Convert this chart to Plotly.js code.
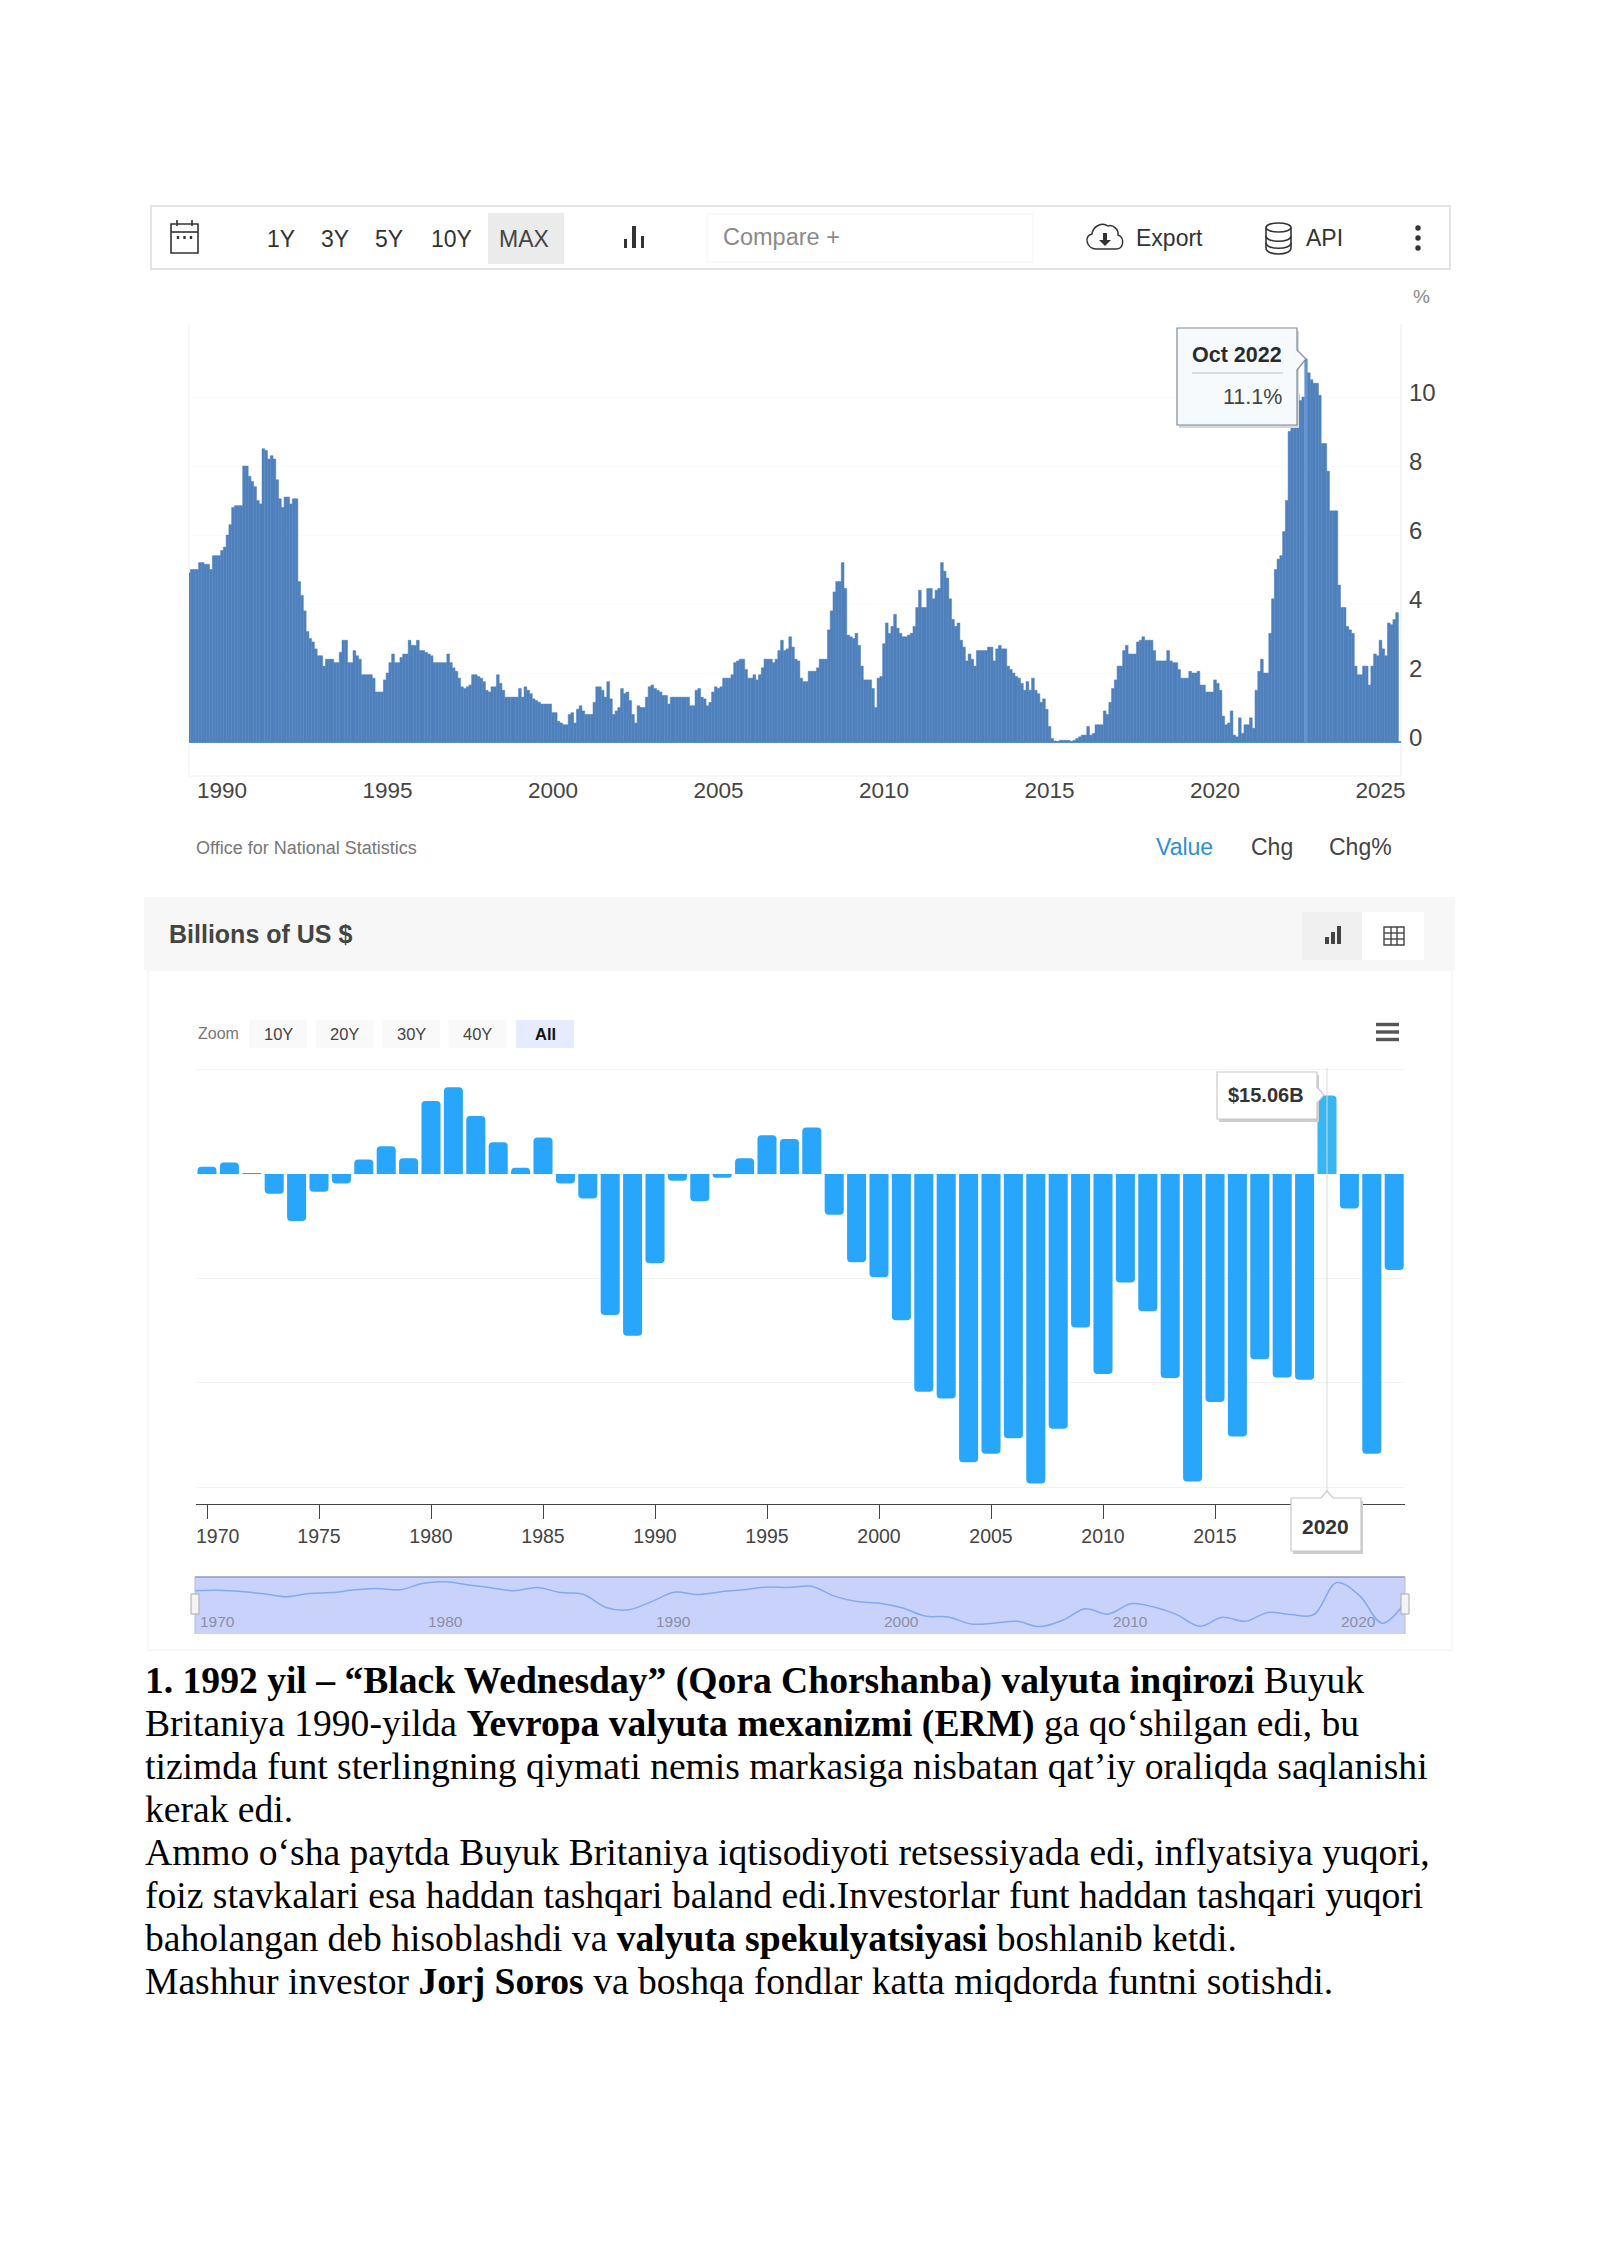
<!DOCTYPE html>
<html><head><meta charset="utf-8">
<script src="https://cdn.plot.ly/plotly-3.0.1.min.js"></script>
<style>html,body{margin:0;padding:0;background:#fff}#c{width:1600px;height:2262px}</style>
</head><body><div id="c"></div>
<script>
// ---------- DATA ----------
const inflationStartYear = 1989;
const inflationValues = [
 4.9,5.0,5.0,5.0,5.2,5.2,5.15,5.15,5.0,5.4,5.4,5.4,
 5.55,5.65,6.0,6.3,6.8,6.85,6.85,6.85,8.0,8.0,7.7,7.55,
 7.4,7.0,6.9,8.5,8.45,8.2,8.3,8.2,7.6,7.05,6.8,7.1,
 7.1,6.9,7.05,7.05,4.65,4.25,3.8,3.2,3.0,2.9,2.7,2.5,
 2.5,2.2,2.4,2.4,2.4,2.3,2.3,2.6,2.95,2.95,2.3,2.3,
 2.65,2.5,2.4,1.95,1.95,1.95,1.95,1.85,1.45,1.45,1.45,1.8,
 2.0,2.3,2.55,2.3,2.3,2.45,2.55,2.55,2.95,2.8,2.8,2.95,
 2.65,2.65,2.6,2.55,2.5,2.3,2.3,2.3,2.3,2.3,2.55,2.3,
 2.15,2.05,1.85,1.6,1.55,1.6,1.65,1.95,1.95,1.9,1.85,1.75,
 1.5,1.45,1.6,1.6,1.95,1.7,1.5,1.3,1.3,1.3,1.3,1.3,
 1.55,1.3,1.6,1.5,1.4,1.25,1.2,1.15,1.1,1.1,1.1,1.1,
 0.85,0.85,0.6,0.55,0.5,0.5,0.8,0.85,0.55,0.95,1.05,0.9,
 0.8,0.8,0.8,1.15,1.6,1.6,1.5,1.3,1.75,1.25,0.8,0.9,
 1.0,1.55,1.4,1.45,1.2,0.8,0.55,1.05,1.0,1.0,1.3,1.6,
 1.65,1.55,1.5,1.45,1.35,1.35,1.1,1.3,1.3,1.3,1.3,1.3,
 1.3,1.3,1.05,1.05,1.5,1.55,1.3,1.25,1.05,1.15,1.45,1.6,
 1.55,1.6,1.85,1.85,1.85,1.95,2.3,2.35,2.4,2.4,2.1,1.85,
 1.85,1.95,1.8,1.95,2.15,2.4,2.4,2.4,2.3,2.4,2.65,2.95,
 2.65,2.7,3.05,2.75,2.4,2.35,1.85,1.75,1.75,2.05,2.05,2.05,
 2.15,2.4,2.4,2.4,3.25,3.8,4.35,4.65,4.65,5.2,4.45,3.1,
 3.05,3.0,3.15,2.8,2.2,1.8,1.8,1.8,1.55,1.0,1.85,1.9,
 2.85,3.45,3.15,3.35,3.7,3.3,3.15,3.05,3.05,3.1,3.15,3.35,
 3.9,4.4,3.9,3.9,4.45,4.45,4.15,4.4,4.45,5.2,4.95,4.75,
 4.15,3.55,3.35,3.45,2.95,2.75,2.35,2.55,2.4,2.2,2.65,2.65,
 2.65,2.65,2.75,2.75,2.35,2.7,2.8,2.7,2.7,2.2,2.1,2.0,
 1.9,1.85,1.7,1.5,1.75,1.5,1.85,1.5,1.4,1.15,1.25,0.95,
 0.45,0.1,0.03,0.0,0.05,0.05,0.05,0.05,0.0,0.05,0.1,
 0.15,0.2,0.2,0.45,0.2,0.25,0.5,0.5,0.5,0.9,0.8,1.15,
 1.55,1.8,2.2,2.2,2.65,2.8,2.55,2.55,2.55,2.9,2.95,3.05,
 2.95,2.95,2.95,2.65,2.35,2.35,2.35,2.35,2.65,2.35,2.3,2.3,
 2.1,1.85,1.85,1.85,2.05,2.0,2.0,2.05,1.65,1.65,1.45,1.45,
 1.45,1.8,1.7,1.5,0.75,0.5,0.55,0.9,0.2,0.15,0.7,0.25,
 0.5,0.5,0.7,0.4,1.5,2.05,2.4,2.0,2.0,3.15,4.15,5.0,
 5.3,5.4,6.1,7.0,9.0,9.1,9.2,10.1,9.9,10.0,11.1,10.7,
 10.5,10.4,10.4,10.05,8.65,8.65,7.85,6.7,6.7,6.7,4.55,3.9,
 3.9,3.35,3.25,3.15,2.2,1.95,1.95,2.2,2.2,1.65,2.2,2.55,
 2.5,2.95,2.7,2.5,3.45,3.4,3.55,3.75
];
const inflationXTicks = [1990,1995,2000,2005,2010,2015,2020,2025];
const inflationYTicks = [0,2,4,6,8,10];

const balanceYears = [1970,1971,1972,1973,1974,1975,1976,1977,1978,1979,1980,1981,1982,1983,1984,1985,1986,1987,1988,1989,
 1990,1991,1992,1993,1994,1995,1996,1997,1998,1999,2000,2001,2002,2003,2004,2005,2006,2007,2008,2009,
 2010,2011,2012,2013,2014,2015,2016,2017,2018,2019,2020,2021,2022,2023];
const balanceValues = [1.4,2.2,0.2,-3.8,-9.0,-3.4,-1.8,2.8,5.3,3.0,14.0,16.6,11.1,6.1,1.2,7.0,-1.8,-4.7,-27.0,-31.0,
 -17.1,-1.3,-5.2,-0.7,3.0,7.4,6.7,8.9,-7.8,-16.9,-19.8,-28.0,-41.7,-43.0,-55.2,-53.6,-50.6,-59.3,-48.8,-29.4,
 -38.3,-20.8,-26.3,-39.1,-58.9,-43.7,-50.3,-35.5,-39.0,-39.4,15.06,-6.6,-53.6,-18.4];
const balanceXTicks = [1970,1975,1980,1985,1990,1995,2000,2005,2010,2015,2020];
const balanceXLabels = ['','1975','1980','1985','1990','1995','2000','2005','2010','2015',''];
const balanceGrid = [-60,-40,-20,0,20];
const navigatorLabels = [1970,1980,1990,2000,2010,2020];

const rangeButtons = [['1Y',281],['3Y',335],['5Y',389],['10Y',451],['MAX',524]];
const zoomButtons = [['10Y',278],['20Y',344.5],['30Y',411],['40Y',477.5],['All',545]];
const paragraphLines = [
 '<b>1. 1992 yil – “Black Wednesday” (Qora Chorshanba) valyuta inqirozi</b> Buyuk',
 'Britaniya 1990-yilda <b>Yevropa valyuta mexanizmi (ERM)</b> ga qo‘shilgan edi, bu',
 'tizimda funt sterlingning qiymati nemis markasiga nisbatan qat’iy oraliqda saqlanishi',
 'kerak edi.',
 'Ammo o‘sha paytda Buyuk Britaniya iqtisodiyoti retsessiyada edi, inflyatsiya yuqori,',
 'foiz stavkalari esa haddan tashqari baland edi.Investorlar funt haddan tashqari yuqori',
 'baholangan deb hisoblashdi va <b>valyuta spekulyatsiyasi</b> boshlanib ketdi.',
 'Mashhur investor <b>Jorj Soros</b> va boshqa fondlar katta miqdorda funtni sotishdi.'
];

// ---------- HELPERS ----------
const W=1600,H=2262;
const fx=p=>p/W, fy=p=>1-p/H;
const SANS='"Liberation Sans", Arial, sans-serif';
const shapes=[], ann=[];
function rect(x0,y0,x1,y1,fill,line,lw,layer){shapes.push({type:'rect',xref:'paper',yref:'paper',x0:fx(x0),x1:fx(x1),y0:fy(y0),y1:fy(y1),
  fillcolor:fill||'rgba(0,0,0,0)',line:{color:line||'rgba(0,0,0,0)',width:lw||0},layer:layer||'above'});}
function circ(cx,cy,r,fill,line,lw){shapes.push({type:'circle',xref:'paper',yref:'paper',x0:fx(cx-r),x1:fx(cx+r),y0:fy(cy-r),y1:fy(cy+r),
  fillcolor:fill||'rgba(0,0,0,0)',line:{color:line||'rgba(0,0,0,0)',width:lw||0}});}
function hl(x0,y0,x1,y1,color,lw,layer){shapes.push({type:'line',xref:'paper',yref:'paper',x0:fx(x0),x1:fx(x1),y0:fy(y0),y1:fy(y1),line:{color:color,width:lw||1},layer:layer||'above'});}
function poly(pts,fill,line,lw,open){const d=pts.map((p,i)=>{
    if(p.length===6) return 'C'+fx(p[0])+','+fy(p[1])+' '+fx(p[2])+','+fy(p[3])+' '+fx(p[4])+','+fy(p[5]);
    return (i?'L':'M')+fx(p[0])+','+fy(p[1]);}).join(' ')+(open?'':' Z');
  shapes.push({type:'path',xref:'paper',yref:'paper',path:d,fillcolor:fill||'rgba(0,0,0,0)',line:{color:line||'rgba(0,0,0,0)',width:lw||0}});}
function txt(x,y,s,size,color,o){o=o||{};ann.push({xref:'paper',yref:'paper',x:fx(x),y:fy(y),text:s,showarrow:false,xanchor:o.a||'center',yanchor:'middle',
  font:{family:o.f||SANS,size:size,color:color},borderpad:0,borderwidth:0});}

// ---------- TOP CHART: frame ----------
rect(151,206,1450,269,'#ffffff','#e4e4e4',2,'below');
rect(488,213,564,264,'#ebebeb',null,0,'below');
rect(707,214,1033,262,'#ffffff','#f9f9f9',2,'below');
rangeButtons.forEach(b=>txt(b[1],239,b[0],23,b[0]==='MAX'?'#444':'#333'));
// calendar icon
rect(171,224,198,253,'#fff','#333',1.6);
hl(171,232,198,232,'#333',1.6); hl(177,220,177,226,'#333',1.6); hl(192,220,192,226,'#333',1.6);
[178,184.5,191].forEach(x=>rect(x-1.2,236,x+1.2,239,'#333'));
// bars icon
rect(624,239,627,248,'#333');rect(632,226,636,248,'#333');rect(641,236,644,248,'#333');
txt(723,237,'Compare +',23.5,'#8b8b8b',{a:'left'});
// cloud icon
poly([[1096,249],[1087,249,1083,236,1092,234],[1093,226,1102,222,1108,226],[1113,224,1119,230,1118,235],[1125,237,1124,249,1116,249],[1096,249]],'#fff','#333',1.5);
rect(1103,233,1107,240,'#333'); poly([[1099,240],[1111,240],[1105,246]],'#333');
txt(1169,238,'Export',23,'#333');
// database icon
shapes.push({type:'circle',xref:'paper',yref:'paper',x0:fx(1266),x1:fx(1291),y0:fy(223),y1:fy(232),line:{color:'#333',width:1.6}});
poly([[1266,228],[1266,248],[1266,256,1291,256,1291,248],[1291,228]],null,'#333',1.6,true);
poly([[1266,236],[1266,243,1291,243,1291,236]],null,'#333',1.6,true);
poly([[1266,243],[1266,250,1291,250,1291,243]],null,'#333',1.6,true);
txt(1324,238,'API',23,'#333');
[228,238,248].forEach(y=>circ(1418,y,2.7,'#333'));
txt(1421,296,'%',19,'#888');
// faint plot frame
hl(189,324,189,776,'#f7f7f7',2,'below'); hl(1401,324,1401,776,'#f5f5f5',2,'below'); hl(189,776,1401,776,'#f8f8f8',2,'below');
// tooltip
rect(1179,331,1299,428,'#d8d8d8');
poly([[1177,328],[1297,328],[1297,350],[1306,359],[1297,370],[1297,425],[1177,425]],'#f7fafd','#7d8a99',1.2);
txt(1237,355,'<b>Oct 2022</b>',21.5,'#2b2b2b');
hl(1192,373,1283,373,'#b9b9b9',1.2);
txt(1282,397,inflationValues[405].toFixed(1)+'%',21.5,'#444',{a:'right'});
// footer
txt(196,848,'Office for National Statistics',18,'#777',{a:'left'});
txt(1184,847,'Value',23,'#2e8fd1'); txt(1272,847,'Chg',23,'#444'); txt(1360,847,'Chg%',23,'#444');

// ---------- BOTTOM CHART: frame ----------
rect(144,897,1455,970,'#f7f7f7',null,0,'below');
rect(148,970,1452,1650,'#ffffff','#f7f7f7',2,'below');
txt(169,934,'<b>Billions of US $</b>',25,'#444',{a:'left'});
rect(1302,912,1362,960,'#f0f0f0',null,0,'below'); rect(1362,912,1424,960,'#ffffff',null,0,'below');
rect(1325,937,1329,944,'#444');rect(1331,932,1335,944,'#444');rect(1337,926,1341,944,'#444');
rect(1384,927,1404,945,'#fff','#444',1.4);
hl(1384,933,1404,933,'#444',1.4);hl(1384,939,1404,939,'#444',1.4);hl(1391,927,1391,945,'#444',1.4);hl(1397,927,1397,945,'#444',1.4);
txt(218,1034,'Zoom',16,'#777');
zoomButtons.forEach(b=>{const on=b[0]==='All';
  rect(b[1]-29,1020,b[1]+29,1048,on?'#e6ebff':'#f9f9f9',null,0,'below');
  txt(b[1],1034,on?'<b>All</b>':b[0],16.5,on?'#111':'#444');});
[1024.5,1032,1039.5].forEach(y=>rect(1376,y-1.7,1399,y+1.7,'#555'));
hl(1327,1068,1327,1504,'#d9d9d9',1);
// value tooltip
rect(1219,1075,1319,1122,'#cfcfcf');
poly([[1217,1072],[1317,1072],[1317,1087],[1324,1095],[1317,1103],[1317,1119],[1217,1119]],'#ffffff','#c8c8c8',1.2);
txt(1266,1095,'<b>$'+balanceValues[balanceYears.indexOf(2020)].toFixed(2)+'B</b>',20,'#333');
// year tooltip
rect(1293,1501,1363,1554,'#cfcfcf');
poly([[1291,1498],[1321,1498],[1327,1491],[1333,1498],[1361,1498],[1361,1551],[1291,1551]],'#ffffff','#c8c8c8',1.2);
txt(1325,1526,'<b>2020</b>',21,'#333');
txt(218,1536,'1970',19.5,'#444');
// navigator
rect(195,1577,1405,1634,'#c9d2fa','#9098b5',0,'below');
hl(195,1577,1405,1577,'#9098b5',1.5);
hl(195,1577,195,1634,'#b5bbdc',1);hl(1405,1577,1405,1634,'#b5bbdc',1);
rect(191,1594,199,1614,'#f4f4f4','#aaaaaa',1);rect(1401,1594,1409,1614,'#f4f4f4','#aaaaaa',1);
navigatorLabels.forEach(y=>ann.push({xref:'x3',yref:'paper',x:y,y:fy(1621),text:String(y),showarrow:false,xanchor:'center',yanchor:'middle',xshift:22,
  font:{family:SANS,size:15.5,color:'#8a8fa8'}}));

// ---------- PARAGRAPH ----------
paragraphLines.forEach((s,i)=>txt(144.5,1680.5+i*43.05,s,37.6,'#000',{a:'left',f:'"Liberation Serif", serif'}));

// ---------- TRACES ----------
const inflationX=inflationValues.map((_,i)=>inflationStartYear+i/12);
const inflationColors=inflationValues.map((_,i)=>i===405?'#6596d2':'#4f80bc');
const traces=[
 {type:'bar',x:inflationX,y:inflationValues,width:1/12,xaxis:'x',yaxis:'y',marker:{color:inflationColors,line:{width:0.5,color:inflationColors}},hoverinfo:'skip'},
 {type:'bar',x:balanceYears,y:balanceValues,width:0.85,xaxis:'x2',yaxis:'y2',
  marker:{color:balanceYears.map(y=>y===2020?'#38b6f1':'#28a6fb'),line:{width:0},cornerradius:4},hoverinfo:'skip'},
 {type:'scatter',mode:'lines',x:balanceYears,y:balanceValues,xaxis:'x3',yaxis:'y3',line:{color:'#84a9ee',width:1.5,shape:'spline',smoothing:1.0},hoverinfo:'skip'}
];

// pixel layout
const ppy1=33.1, x1L=1990+(189-222)/ppy1, x1R=1990+(1401-222)/ppy1;
const ppyB=22.4, x2L=1970+(196-207)/ppyB, x2R=1970+(1405-207)/ppyB;
const y1Top=(742-324)/34.5, y1Bot=-(776-742)/34.5;
const y2Top=(1174-1068)/5.22, y2Bot=-(1504-1174)/5.22;
const layout={
 width:W,height:H,margin:{l:0,r:0,t:0,b:0},paper_bgcolor:'#fff',plot_bgcolor:'rgba(0,0,0,0)',showlegend:false,barmode:'overlay',
 font:{family:SANS},hovermode:false,
 xaxis:{domain:[fx(189),fx(1401)],range:[x1L,x1R],anchor:'y',tickmode:'array',tickvals:inflationXTicks,ticktext:inflationXTicks.map(String),
   showgrid:false,zeroline:false,showline:false,ticks:'',tickfont:{size:22.5,color:'#444',family:SANS},ticklabelstandoff:-2},
 yaxis:{domain:[fy(776),fy(324)],range:[y1Bot,y1Top],anchor:'x',side:'right',tickmode:'array',tickvals:inflationYTicks,
   showgrid:true,gridcolor:'#fbfbfb',gridwidth:1,zeroline:true,zerolinecolor:'#5d97d3',zerolinewidth:1.5,showline:false,ticks:'',
   tickfont:{size:24,color:'#444',family:SANS},ticklabelshift:-4,ticklabelstandoff:7},
 xaxis2:{domain:[fx(196),fx(1405)],range:[x2L,x2R],anchor:'y2',tickmode:'array',tickvals:balanceXTicks,ticktext:balanceXLabels,
   showgrid:false,zeroline:false,showline:true,linecolor:'#444',linewidth:1.2,ticks:'outside',ticklen:14,tickcolor:'#444',tickwidth:1,
   tickfont:{size:19.5,color:'#444',family:SANS},ticklabelstandoff:0},
 yaxis2:{domain:[fy(1504),fy(1068)],range:[y2Bot,y2Top],anchor:'x2',tickmode:'array',tickvals:balanceGrid,showticklabels:false,
   showgrid:true,gridcolor:'#f3f3f3',gridwidth:1,zeroline:false,showline:false,ticks:''},
 xaxis3:{domain:[fx(195),fx(1405)],range:[1970,2023],anchor:'y3',visible:false},
 yaxis3:{domain:[fy(1634),fy(1577)],range:[-72,24.6],anchor:'x3',visible:false},
 shapes:shapes,annotations:ann
};
Plotly.newPlot('c',traces,layout,{displayModeBar:false,staticPlot:true});
</script></body></html>
